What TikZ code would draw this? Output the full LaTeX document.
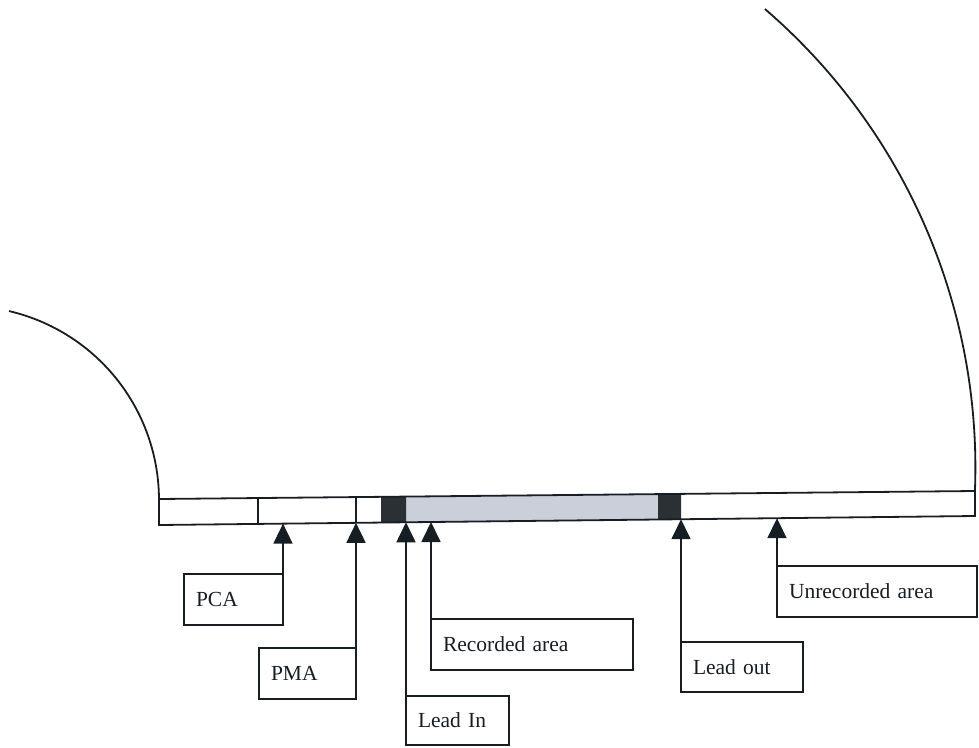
\documentclass[tikz,border=0pt]{standalone}
\usepackage{fontspec}
\setmainfont{Liberation Serif}
\usetikzlibrary{arrows.meta}
\definecolor{ink}{RGB}{22,30,36}
\definecolor{darkseg}{RGB}{42,48,52}
\definecolor{recfill}{RGB}{202,207,218}
\begin{document}
\begin{tikzpicture}[x=1pt,y=-1pt,
  edge/.style={draw=ink, line width=1.8pt},
  lbl/.style={draw=ink, line width=1.6pt, anchor=north west, outer sep=0pt,
    inner xsep=12pt, inner ysep=0pt, align=left, text=ink,
    font=\fontsize{21.5}{24}\selectfont},
  arr/.style={draw=ink, line width=1.8pt, -{Triangle[length=20pt,width=19pt]}}]
\useasboundingbox (0,0) rectangle (979,747);

% disc outlines
\draw[edge] plot[domain=-76.9:0, samples=60] ({-35+194*cos(\x)},{500+194*sin(\x)});
\draw[edge] plot[domain=-49.3:2.2, samples=90] ({370.3+605.1*cos(\x)},{467.7+605.1*sin(\x)});

% strip fills
\fill[recfill] (406,496.58) -- (658,494.11) -- (658,519.5) -- (406,522.28) -- cycle;
\fill[darkseg] (381,496.82) -- (406,496.58) -- (406,522.28) -- (381,522.55) -- cycle;
\fill[darkseg] (658,494.11) -- (681,493.88) -- (681,519.24) -- (658,519.5) -- cycle;
% strip outline and dividers
\draw[edge] (159,499) -- (975,491) -- (975,516) -- (159,525) -- cycle;
\draw[edge] (258,498.03) -- (258,524.0);
\draw[edge] (356,497.07) -- (356,522.83);

% arrow targets on the strip
\coordinate (tPCA) at (283,523.63);
\coordinate (tPMA) at (356,522.83);
\coordinate (tLI) at (406,522.28);
\coordinate (tRec) at (431,522.0);
\coordinate (tLO) at (681,519.24);
\coordinate (tUn) at (777,518.18);

% label boxes
\node[lbl, minimum width=99pt, text width=75pt, minimum height=51pt] (pca) at (184,574) {PCA};
\node[lbl, minimum width=97pt, text width=73pt, minimum height=51pt] (pma) at (259,648) {PMA};
\node[lbl, minimum width=103pt, text width=79pt, minimum height=49pt] (leadin) at (406,696) {Lead In};
\node[lbl, minimum width=202pt, text width=178pt, minimum height=51pt] (rec) at (431,619) {Recorded area};
\node[lbl, minimum width=122pt, text width=98pt, minimum height=50pt] (leadout) at (681,642) {Lead out};
\node[lbl, minimum width=200pt, text width=176pt, minimum height=51pt] (unrec) at (777,566) {Unrecorded area};

% pointers
\draw[arr] (pca.north east) -- (tPCA);
\draw[arr] (pma.north east) -- (tPMA);
\draw[arr] (leadin.north west) -- (tLI);
\draw[arr] (rec.north west) -- (tRec);
\draw[arr] (leadout.north west) -- (tLO);
\draw[arr] (unrec.north west) -- (tUn);
\end{tikzpicture}
\end{document}
